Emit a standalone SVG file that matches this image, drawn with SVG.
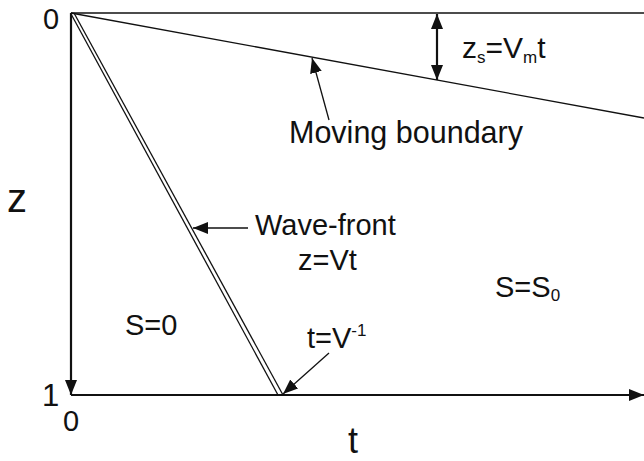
<svg xmlns="http://www.w3.org/2000/svg" width="644" height="461" viewBox="0 0 644 461">
<style>
text{font-family:"Liberation Sans","Open Sans",sans-serif;fill:#111;}
.lbl{font-size:29px;}
.sub{font-size:17px;}
.thin{stroke:#111;stroke-width:1.3;fill:none;}
.ax{stroke:#111;stroke-width:2.2;fill:none;}
.ptr{stroke:#111;stroke-width:1.3;fill:none;}
</style>
<defs>
<marker id="ah" markerUnits="userSpaceOnUse" markerWidth="16" markerHeight="12" refX="15" refY="6" orient="auto">
<path d="M0,0 L15,6 L0,12 z" fill="#111"/>
</marker>
<marker id="ahs" markerUnits="userSpaceOnUse" markerWidth="16" markerHeight="12" refX="0" refY="6" orient="auto">
<path d="M15,0 L0,6 L15,12 z" fill="#111"/>
</marker>
</defs>
<g id="axes">
<line class="thin" x1="71" y1="13" x2="644" y2="13"/>
<line class="ax" x1="71" y1="13" x2="71" y2="395" marker-end="url(#ah)"/>
<line class="ax" x1="71" y1="395" x2="644" y2="395" marker-end="url(#ah)"/>
</g>
<g id="moving-boundary">
<line class="thin" x1="71" y1="13" x2="644" y2="118"/>
</g>
<g id="wave-front">
<line class="thin" x1="70.5" y1="13" x2="278" y2="395"/>
<line class="thin" x1="74" y1="13" x2="283" y2="395"/>
</g>
<g id="connectors">
<line class="ax" x1="437" y1="14" x2="437" y2="80" marker-start="url(#ahs)" marker-end="url(#ah)"/>
<line class="ptr" x1="329" y1="120" x2="312" y2="58" marker-end="url(#ah)"/>
<line class="ptr" x1="248" y1="228" x2="193" y2="228" marker-end="url(#ah)"/>
<line class="ptr" x1="329" y1="353" x2="283" y2="394" marker-end="url(#ah)"/>
</g>
<g id="labels">
<text x="43" y="29" class="lbl">0</text>
<text x="7" y="212" style="font-size:40px">z</text>
<text x="42" y="406" style="font-size:31px">1</text>
<text x="63" y="431" class="lbl">0</text>
<text x="348" y="453" style="font-size:36px">t</text>
<text x="462" y="58" style="font-size:30px">z<tspan class="sub" dy="5">s</tspan><tspan dy="-5">=V</tspan><tspan class="sub" dy="5">m</tspan><tspan dy="-5">t</tspan></text>
<text x="289" y="143" style="font-size:30.5px">Moving boundary</text>
<text x="255" y="235" class="lbl">Wave-front</text>
<text x="298" y="270" class="lbl">z=Vt</text>
<text x="125" y="335" class="lbl">S=0</text>
<text x="495" y="297" class="lbl">S=S<tspan class="sub" dy="4">0</tspan></text>
<text x="307" y="348" class="lbl">t=V<tspan class="sub" dy="-12">-1</tspan></text>
</g>
</svg>
